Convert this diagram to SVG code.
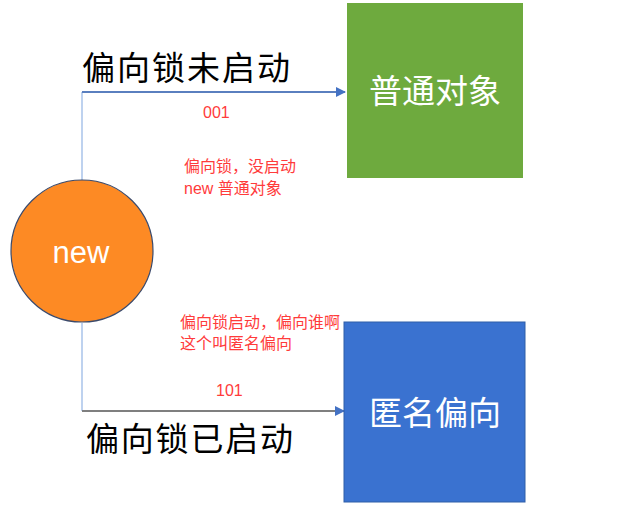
<svg xmlns="http://www.w3.org/2000/svg" width="640" height="532" viewBox="0 0 640 532">
<style>
.big{font-family:"Noto Sans CJK SC","Liberation Sans",sans-serif;font-size:33px;fill:#000;}
.box{font-family:"Noto Sans CJK SC","Liberation Sans",sans-serif;font-size:33px;fill:#fff;text-anchor:middle;}
.red{font-family:"Liberation Sans","Noto Sans CJK SC",sans-serif;font-size:16px;fill:#ff3b3b;}
</style>
<defs>
<marker id="arr" markerWidth="10" markerHeight="10" refX="9" refY="5" orient="auto" markerUnits="userSpaceOnUse">
<path d="M0,0 L10,5 L0,10 Z" fill="#4472C4"/>
</marker>
</defs>
<rect width="640" height="532" fill="#fff"/>
<g id="connectors">
<path d="M82,180 V92" fill="none" stroke="#a9c3ea" stroke-width="1.5"/>
<path d="M82,92 H345" fill="none" stroke="#5a7fbf" stroke-width="1.8" marker-end="url(#arr)"/>
<path d="M82,323 V411" fill="none" stroke="#a9c3ea" stroke-width="1.5"/>
<path d="M82,411 H344" fill="none" stroke="#7f7f7f" stroke-width="1.8" marker-end="url(#arr)"/>
</g>
<g id="label-top">
<text class="big" x="82" y="80" textLength="208">偏向锁未启动</text>
</g>
<g id="label-bottom">
<text class="big" x="86" y="451" textLength="207">偏向锁已启动</text>
</g>
<g id="node-normal">
<rect x="347" y="3" width="176" height="175" fill="#6eaa3e"/>
<text class="box" x="435" y="103">普通对象</text>
</g>
<g id="node-anon">
<rect x="344" y="322" width="181" height="180" fill="#3a72d0" stroke="#2f5ea8" stroke-width="1"/>
<text class="box" x="435" y="425">匿名偏向</text>
</g>
<g id="node-new">
<circle cx="82" cy="251" r="71" fill="#fd8a24" stroke="#3b4a6b" stroke-width="1.2"/>
<text x="81" y="263" font-family="Liberation Sans, sans-serif" font-size="31" fill="#fff" text-anchor="middle">new</text>
</g>
<g id="notes">
<text class="red" x="203" y="118">001</text>
<text class="red" x="184" y="172">偏向锁，没启动</text>
<text class="red" x="184" y="194">new 普通对象</text>
<text class="red" x="180" y="328">偏向锁启动，偏向谁啊</text>
<text class="red" x="180" y="349">这个叫匿名偏向</text>
<text class="red" x="216" y="396">101</text>
</g>
</svg>
